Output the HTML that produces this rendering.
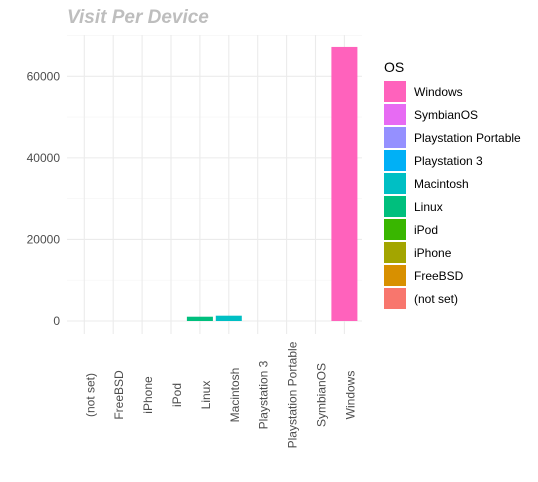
<!DOCTYPE html>
<html><head><meta charset="utf-8"><style>
body{margin:0;background:#fff;}
svg text{font-family:"Liberation Sans",Arial,sans-serif;}
</style></head><body>
<svg width="538" height="477" viewBox="0 0 538 477">
<text x="67" y="23" font-size="19" font-weight="bold" font-style="italic" fill="#bebebe">Visit Per Device</text>
<g id="grid"></g>
<g id="bars"></g>
<g id="yaxis"></g>
<g id="xaxis"></g>
<g id="legend">
<text x="384" y="72" font-size="14" fill="#000">OS</text>
</g>
</svg>
<script>
const categories=["(not set)","FreeBSD","iPhone","iPod","Linux","Macintosh","Playstation 3","Playstation Portable","SymbianOS","Windows"];
const visits=[0,0,0,0,1050,1300,0,0,0,67200];
const colors=["#F8766D","#D89000","#A3A500","#39B600","#00BF7D","#00BFC4","#00B0F6","#9590FF","#E76BF3","#FF62BC"];
const yTicks=[0,20000,40000,60000];
const yTickLabels=["0","20000","40000","60000"];
const NS="http://www.w3.org/2000/svg";
const L=67,R=362,T=35,B=334;
const y0=321,ppu=(321-76.3)/60000;
function ys(v){return y0-v*ppu;}
const step=28.9,x0=84.3;
function xs(i){return x0+i*step;}
function mk(tag,attrs,parent){const e=document.createElementNS(NS,tag);for(const k in attrs)e.setAttribute(k,attrs[k]);parent.appendChild(e);return e;}
const grid=document.getElementById('grid'),bars=document.getElementById('bars'),ya=document.getElementById('yaxis'),xa=document.getElementById('xaxis'),lg=document.getElementById('legend');
for(let v=-10000;v<=70000;v+=10000){const y=ys(v);if(y<T||y>B)continue;const major=v%20000===0;
const ln=mk('line',{x1:L,x2:R,y1:y,y2:y,stroke:major?'#ebebeb':'#f4f4f4','stroke-width':major?1.1:0.6},grid);

}
categories.forEach((c,i)=>{const ln=mk('line',{x1:xs(i),x2:xs(i),y1:T,y2:B,stroke:'#ebebeb','stroke-width':1.1},grid);

});
yTicks.forEach((v,i)=>{const t=mk('text',{x:60,y:ys(v)+4,'text-anchor':'end','font-size':12,fill:'#4d4d4d'},ya);t.textContent=yTickLabels[i];

});
const bw=step*0.9;
categories.forEach((c,i)=>{const v=visits[i];if(v<=0)return;
const r=mk('rect',{x:xs(i)-bw/2,y:ys(v),width:bw,height:y0-ys(v),fill:colors[i]},bars);

});
categories.forEach((c,i)=>{const t=mk('text',{transform:`translate(${xs(i)+10},395) rotate(-90)`,'text-anchor':'middle','font-size':12,fill:'#4d4d4d'},xa);t.textContent=c;

});
for(let k=0;k<categories.length;k++){const i=categories.length-1-k;const y=81+k*23;
const r=mk('rect',{x:384,y:y,width:22,height:21,fill:colors[i]},lg);


const t=mk('text',{x:414,y:y+15,'font-size':12,fill:'#000'},lg);t.textContent=categories[i];

}
</script>
</body></html>
